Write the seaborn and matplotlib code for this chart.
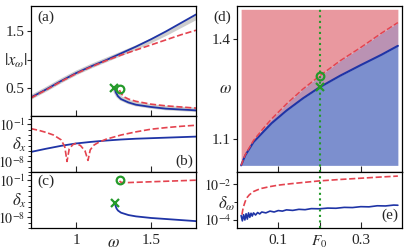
import numpy as np
import pandas as pd
import matplotlib.pyplot as plt
import matplotlib.ticker as mticker
import seaborn as sns

### Data

# (a) response amplitude, upper and lower branches
w_up = [0.70, 0.80, 0.90, 1.00, 1.10, 1.20, 1.30, 1.40, 1.50, 1.60, 1.70, 1.80]
x_up_blue = [0.33, 0.47, 0.62, 0.76, 0.88, 0.99, 1.11, 1.23, 1.36, 1.50, 1.65, 1.80]
x_up_red = [0.32, 0.46, 0.61, 0.75, 0.87, 0.98, 1.08, 1.17, 1.26, 1.35, 1.44, 1.52]
x_up_gray = [0.33, 0.47, 0.62, 0.76, 0.88, 0.99, 1.10, 1.21, 1.33, 1.46, 1.60, 1.74]

w_lo_blue = [1.258, 1.265, 1.28, 1.30, 1.35, 1.40, 1.50, 1.60, 1.70, 1.80]
x_lo_blue = [0.49, 0.42, 0.35, 0.30, 0.24, 0.20, 0.16, 0.13, 0.115, 0.10]
w_lo_red = [1.29, 1.30, 1.32, 1.35, 1.40, 1.50, 1.60, 1.70, 1.80]
x_lo_red = [0.46, 0.40, 0.34, 0.30, 0.26, 0.21, 0.18, 0.16, 0.14]

# (b) log10 error, upper branch
w_b_red = [0.70, 0.75, 0.80, 0.85, 0.90, 0.925, 0.94, 0.955, 0.98, 1.00, 1.03, 1.06,
           1.08, 1.095, 1.12, 1.15, 1.20, 1.30, 1.40, 1.50, 1.60, 1.70, 1.80]
d_b_red = [-1.8, -2.1, -2.5, -3.0, -3.9, -5.2, -8.0, -5.6, -4.8, -4.6, -5.0, -6.0,
           -7.8, -5.8, -4.9, -4.4, -3.8, -3.0, -2.4, -1.9, -1.6, -1.35, -1.15]
w_b_blue = [0.70, 0.80, 0.90, 1.00, 1.10, 1.20, 1.30, 1.40, 1.50, 1.60, 1.70, 1.80]
d_b_blue = [-6.2, -5.6, -5.05, -4.6, -4.3, -4.05, -3.85, -3.7, -3.6, -3.5, -3.4, -3.3]

# (c) log10 error, lower branch
w_c_red = [1.29, 1.30, 1.35, 1.40, 1.50, 1.60, 1.70, 1.80]
d_c_red = [-1.1, -1.35, -1.4, -1.35, -1.25, -1.15, -1.05, -0.95]
w_c_blue = [1.258, 1.265, 1.27, 1.28, 1.30, 1.35, 1.40, 1.50, 1.60, 1.70, 1.80]
d_c_blue = [-5.3, -5.9, -6.3, -6.7, -7.1, -7.55, -7.8, -8.1, -8.3, -8.5, -8.7]

# (d) bifurcation frequency vs forcing
F_d = [0.01, 0.02, 0.04, 0.063, 0.084, 0.12, 0.16, 0.20, 0.25, 0.30, 0.35, 0.39]
w_d_blue = [1.02, 1.05, 1.09, 1.12, 1.147, 1.185, 1.222, 1.255, 1.29, 1.322, 1.353, 1.38]
w_d_red = [1.02, 1.052, 1.095, 1.13, 1.16, 1.205, 1.25, 1.289, 1.335, 1.375, 1.418, 1.45]

# (e) log10 error of the bifurcation frequency
F_e_red = [0.012, 0.015, 0.02, 0.025, 0.03, 0.04, 0.05, 0.06, 0.08, 0.10, 0.13, 0.16,
           0.20, 0.25, 0.30, 0.35, 0.39]
d_e_red = [-3.7, -3.3, -2.95, -2.72, -2.58, -2.4, -2.3, -2.22, -2.12, -2.04, -1.96, -1.89,
           -1.8, -1.72, -1.65, -1.58, -1.53]
F_e_blue = [0.010, 0.013, 0.016, 0.019, 0.022, 0.025, 0.028, 0.031, 0.034, 0.037, 0.040,
            0.045, 0.050, 0.055, 0.060, 0.070, 0.080, 0.090, 0.100, 0.110, 0.120, 0.135,
            0.150, 0.165, 0.180, 0.200, 0.220, 0.240, 0.260, 0.280, 0.300, 0.320, 0.340,
            0.360, 0.380, 0.390]
d_e_blue = [-3.75, -4.05, -3.70, -4.00, -3.65, -3.95, -3.60, -3.85, -3.62, -3.78, -3.60,
            -3.72, -3.58, -3.66, -3.55, -3.60, -3.50, -3.55, -3.47, -3.50, -3.43, -3.46,
            -3.40, -3.42, -3.36, -3.37, -3.33, -3.34, -3.29, -3.30, -3.25, -3.26, -3.20,
            -3.21, -3.16, -3.17]

F0 = 0.2
mark_x_a, mark_o_a = (1.255, 0.50), (1.293, 0.48)
mark_x_c, mark_o_c = (1.258, -5.3), (1.29, -0.95)
mark_x_d, mark_o_d = (F0, 1.255), (F0, 1.289)

### Style

BLUE = '#1f34a6'
RED = '#e4434f'
GREEN = '#249a2a'
GRAY = '#cdcdcd'
PINK_FILL = '#e9989f'
BLUE_FILL = '#7c8fce'
MIX_FILL = '#ba92b3'

sns.set_theme(style="ticks")
plt.rcParams['font.family'] = ['Liberation Serif', 'DejaVu Serif']
plt.rcParams['mathtext.fontset'] = 'stix'
plt.rcParams['font.size'] = 11
plt.rcParams['axes.edgecolor'] = 'black'
plt.rcParams['axes.linewidth'] = 0.9

W, H = 407, 252
fig = plt.figure(figsize=(W / 100, H / 100), dpi=100)


def rect(x0, x1, y0, y1):
    return [x0 / W, 1 - y1 / H, (x1 - x0) / W, (y1 - y0) / H]


ax_a = fig.add_axes(rect(31, 196, 6, 116))
ax_b = fig.add_axes(rect(31, 196, 116, 172))
ax_c = fig.add_axes(rect(31, 196, 172, 228))
ax_d = fig.add_axes(rect(237, 402, 6, 172))
ax_e = fig.add_axes(rect(237, 402, 172, 228))


def line(ax, x, y, color, ls='-', lw=1.3, log=False):
    y = np.power(10.0, y) if log else np.asarray(y)
    sns.lineplot(x=x, y=y, ax=ax, color=color, linestyle=ls, linewidth=lw,
                 sort=False, estimator=None)


def marks(ax, px, po):
    ax.plot(*px, marker='x', color=GREEN, ms=6, mew=1.6, ls='none', zorder=5)
    ax.plot(*po, marker='o', mfc='none', mec=GREEN, ms=5.5, mew=1.6, ls='none', zorder=5)


def log_ticks(ax, majors, labels):
    ax.set_yscale('log')
    ax.yaxis.set_major_locator(mticker.FixedLocator(majors))
    ax.yaxis.set_major_formatter(mticker.FixedFormatter(labels))
    ax.yaxis.set_minor_locator(mticker.LogLocator(base=10, subs=(1.0,), numticks=40))
    ax.yaxis.set_minor_formatter(mticker.NullFormatter())
    ax.tick_params(axis='y', which='major', labelsize=10, pad=1)


## (a)
line(ax_a, w_up, x_up_gray, GRAY, lw=3.2)
line(ax_a, w_lo_blue, [v + 0.01 for v in x_lo_blue], GRAY, lw=3.2)
line(ax_a, w_up, x_up_blue, BLUE)
line(ax_a, w_up, x_up_red, RED, ls='--', lw=1.2)
line(ax_a, w_lo_blue, x_lo_blue, BLUE)
line(ax_a, w_lo_red, x_lo_red, RED, ls='--', lw=1.2)
marks(ax_a, mark_x_a, mark_o_a)
ax_a.set_ylim(0, 1.95)
ax_a.set_yticks([0.5, 1.0, 1.5])
ax_a.set_yticklabels(['0.5', '', '1.5'])
ax_a.set_ylabel(r'$|x_\omega|$', rotation=0, ha='center', va='center')
ax_a.yaxis.set_label_coords(-0.09, 0.5)
ax_a.text(0.04, 0.9, '(a)', transform=ax_a.transAxes, ha='left', va='center')

## (b)
line(ax_b, w_b_blue, d_b_blue, BLUE, log=True)
line(ax_b, w_b_red, d_b_red, RED, ls='--', lw=1.2, log=True)
ax_b.set_ylim(1e-10, 10 ** 0.6)
log_ticks(ax_b, [1e-1, 1e-8], [r'$10^{-1}$', r'$10^{-8}$'])
ax_b.set_ylabel(r'$\delta_x$', rotation=0, ha='center', va='center')
ax_b.yaxis.set_label_coords(-0.07, 0.48)
ax_b.text(0.985, 0.2, '(b)', transform=ax_b.transAxes, ha='right', va='center')

## (c)
line(ax_c, w_c_blue, d_c_blue, BLUE, log=True)
line(ax_c, w_c_red, d_c_red, RED, ls='--', lw=1.2, log=True)
marks(ax_c, (mark_x_c[0], 10 ** mark_x_c[1]), (mark_o_c[0], 10 ** mark_o_c[1]))
ax_c.set_ylim(1e-10, 10 ** 0.6)
log_ticks(ax_c, [1e-1, 1e-8], [r'$10^{-1}$', r'$10^{-8}$'])
ax_c.set_ylabel(r'$\delta_x$', rotation=0, ha='center', va='center')
ax_c.yaxis.set_label_coords(-0.07, 0.48)
ax_c.text(0.04, 0.83, '(c)', transform=ax_c.transAxes, ha='left', va='center')
ax_c.set_xlabel(r'$\omega$', va='center')
ax_c.xaxis.set_label_coords(0.5, -0.26)

for ax in (ax_a, ax_b, ax_c):
    ax.set_xlim(0.7, 1.8)
    ax.set_xticks([1.0, 1.5])
for ax in (ax_a, ax_b):
    ax.set_xticklabels([])
ax_c.set_xticklabels(['1', '1.5'])

## (d)
ax_d.fill_between(F_d, w_d_red, 1.49, color=PINK_FILL, lw=0)
ax_d.fill_between(F_d, w_d_blue, w_d_red, color=MIX_FILL, lw=0)
ax_d.fill_between(F_d, 1.02, w_d_blue, color=BLUE_FILL, lw=0)
line(ax_d, F_d, w_d_blue, BLUE, lw=1.5)
line(ax_d, F_d, w_d_red, RED, ls='--', lw=1.1)
ax_d.axvline(F0, color=GREEN, ls=':', lw=1.5)
marks(ax_d, mark_x_d, mark_o_d)
ax_d.set_ylim(1.0, 1.5)
ax_d.set_yticks([1.1, 1.4])
ax_d.set_yticklabels(['1.1', '1.4'])
ax_d.set_ylabel(r'$\omega$', rotation=0, ha='center', va='center')
ax_d.yaxis.set_label_coords(-0.07, 0.5)
ax_d.text(-0.09, 0.935, '(d)', transform=ax_d.transAxes, ha='center', va='center')

## (e)
line(ax_e, F_e_blue, d_e_blue, BLUE, lw=1.2, log=True)
line(ax_e, F_e_red, d_e_red, RED, ls='--', lw=1.2, log=True)
ax_e.axvline(F0, color=GREEN, ls=':', lw=1.5)
ax_e.set_ylim(10 ** -4.45, 10 ** -1.3)
log_ticks(ax_e, [1e-2, 1e-4], [r'$10^{-2}$', r'$10^{-4}$'])
ax_e.set_ylabel(r'$\delta_\omega$', rotation=0, ha='center', va='center')
ax_e.yaxis.set_label_coords(-0.06, 0.43)
ax_e.text(0.975, 0.22, '(e)', transform=ax_e.transAxes, ha='right', va='center')

for ax in (ax_d, ax_e):
    ax.set_xlim(0, 0.4)
    ax.set_xticks([0.1, 0.2, 0.3])
ax_d.set_xticklabels([])
ax_e.set_xticklabels(['0.1', r'$F_0$', '0.3'])

for ax in (ax_a, ax_b, ax_c, ax_d, ax_e):
    ax.tick_params(axis='x', which='both', direction='in', length=4, width=0.8, pad=4)
    ax.tick_params(axis='y', which='major', direction='out', length=3, width=0.8)
    ax.tick_params(axis='y', which='minor', direction='out', length=2, width=0.7)
    for s in ax.spines.values():
        s.set_visible(True)
        s.set_color('black')
for ax in (ax_a, ax_d):
    ax.tick_params(axis='y', which='major', pad=1.5)

fig.savefig('out.png', dpi=100)
